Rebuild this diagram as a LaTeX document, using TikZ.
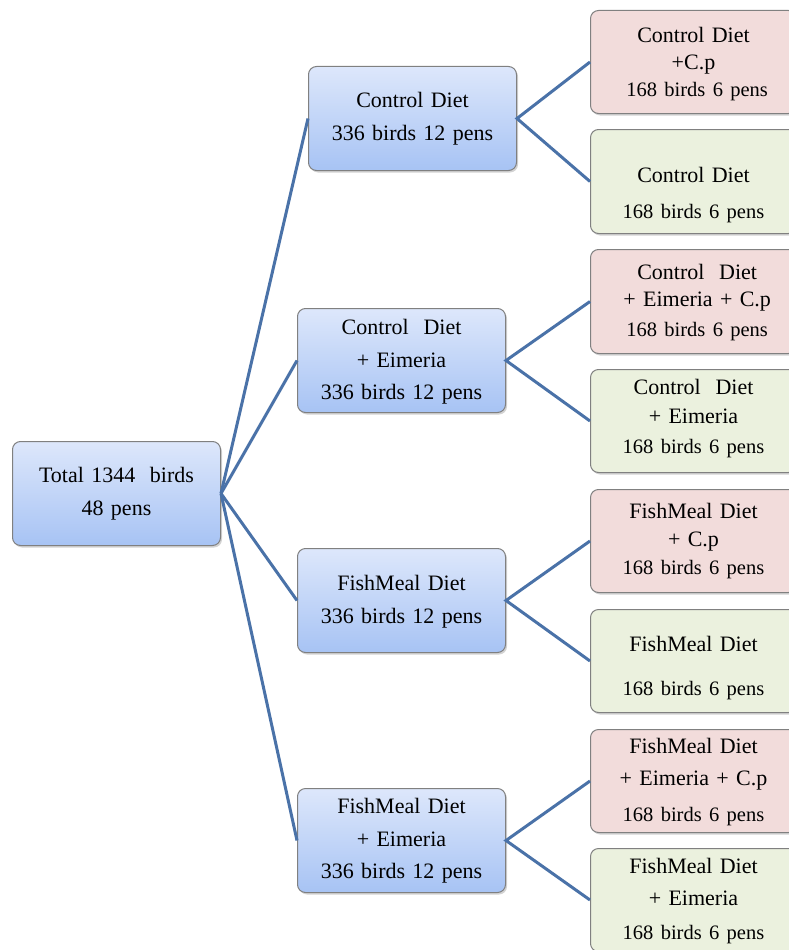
\documentclass[tikz,border=0pt]{standalone}
\usepackage{fontspec}
\setmainfont{Liberation Serif}
\usetikzlibrary{shadows}
\definecolor{linkblue}{HTML}{4A72A8}
\definecolor{boxgray}{HTML}{808080}
\definecolor{topblue}{HTML}{DDE7FB}
\definecolor{botblue}{HTML}{A7C3F4}
\definecolor{cppink}{HTML}{F2DCDB}
\definecolor{plaingreen}{HTML}{EBF1DE}
\newcommand{\cnt}[1]{{\fontsize{20.5}{27}\selectfont #1}}
\tikzset{
  box/.style={draw=boxgray, line width=1pt, rounded corners=8pt, anchor=north west, inner sep=0pt, align=center,
    font=\fontsize{22}{27}\selectfont, drop shadow={shadow xshift=1.5pt, shadow yshift=-2pt, opacity=0.35}},
  bluebox/.style={box, top color=topblue, bottom color=botblue, text width=208pt},
  pinkbox/.style={box, fill=cppink, text width=206pt},
  greenbox/.style={box, fill=plaingreen, text width=206pt},
  link/.style={draw=linkblue, line width=3pt}
}
\begin{document}
\begin{tikzpicture}[x=1pt,y=-1pt]
  \useasboundingbox (0,0) rectangle (788,950);
  \node[bluebox, text height=41pt, text depth=63pt] (root) at (12,441) {Total 1344~ birds\\[6pt]48 pens};
  \node[bluebox, text height=41pt, text depth=63pt] (cd) at (308,66) {Control Diet\\[6pt]336 birds 12 pens};
  \node[bluebox, text height=26pt, text depth=78pt] (cde) at (297,308) {Control~ Diet\\[6pt]+ Eimeria\\[5pt]336 birds 12 pens};
  \node[bluebox, text height=42pt, text depth=62pt] (fd) at (297,548) {FishMeal Diet\\[6pt]336 birds 12 pens};
  \node[bluebox, text height=25pt, text depth=79pt] (fde) at (297,788) {FishMeal Diet\\[6pt]+ Eimeria\\[5pt]336 birds 12 pens};
  \node[pinkbox, text height=32pt, text depth=71pt] (cdcp) at (590,10) {Control Diet\\+C.p\\\cnt{~168 birds 6 pens}};
  \node[greenbox, text height=53pt, text depth=51pt] (cdn) at (590,129) {Control Diet\\[9pt]\cnt{168 birds 6 pens}};
  \node[pinkbox, text height=30pt, text depth=74pt] (cdecp) at (590,249) {~Control~ Diet\\~+ Eimeria + C.p\\[3pt]\cnt{~168 birds 6 pens}};
  \node[greenbox, text height=25pt, text depth=78pt] (cden) at (590,369) {Control~ Diet\\[2pt]+ Eimeria\\[3pt]\cnt{168 birds 6 pens}};
  \node[pinkbox, text height=29pt, text depth=74pt] (fdcp) at (590,489) {FishMeal Diet\\[1pt]+ C.p\\[1pt]\cnt{168 birds 6 pens}};
  \node[greenbox, text height=42pt, text depth=61pt] (fdn) at (590,609) {FishMeal Diet\\[17pt]\cnt{168 birds 6 pens}};
  \node[pinkbox, text height=24pt, text depth=79pt] (fdecp) at (590,729) {FishMeal Diet\\[5pt]+ Eimeria + C.p\\[9pt]\cnt{168 birds 6 pens}};
  \node[greenbox, text height=25pt, text depth=78pt] (fden) at (590,848) {FishMeal Diet\\[5pt]+ Eimeria\\[7pt]\cnt{168 birds 6 pens}};
  \foreach \m in {cd,cde,fd,fde} \draw[link] (root.east) -- (\m.west);
  \draw[link] (cdcp.west) -- (cd.east) -- (cdn.west); \draw[link] (cdecp.west) -- (cde.east) -- (cden.west);
  \draw[link] (fdcp.west) -- (fd.east) -- (fdn.west); \draw[link] (fdecp.west) -- (fde.east) -- (fden.west);
\end{tikzpicture}
\end{document}
